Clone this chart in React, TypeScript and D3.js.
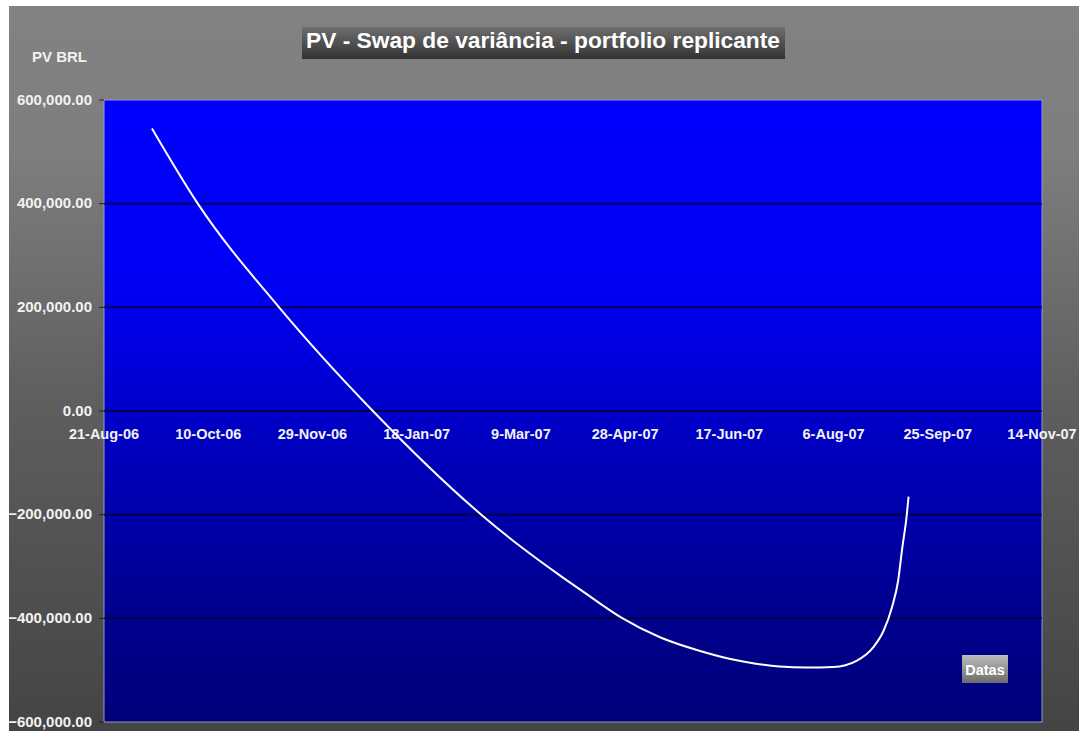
import React from "react";
import * as d3 from "d3";

const pvDates = [
  "2006-09-13", "2006-10-05", "2006-11-13", "2006-12-28", "2007-02-18",
  "2007-03-09", "2007-03-28", "2007-04-07", "2007-04-26", "2007-05-15",
  "2007-06-03", "2007-06-17", "2007-06-29", "2007-07-11", "2007-07-24",
  "2007-08-06", "2007-08-17", "2007-08-25", "2007-08-30", "2007-09-03",
  "2007-09-06", "2007-09-08", "2007-09-10", "2007-09-11",
];
const pvValues = [
  545000, 400000, 200000, 0, -200000,
  -262000, -318000, -346000, -398000, -437000,
  -463000, -478000, -487000, -493000, -495000,
  -494000, -482000, -456000, -424000, -379000,
  -327000, -263000, -205000, -165000,
];
const xTickDates = [
  "2006-08-21", "2006-10-10", "2006-11-29", "2007-01-18", "2007-03-09",
  "2007-04-28", "2007-06-17", "2007-08-06", "2007-09-25", "2007-11-14",
];
const yTicks = [600000, 400000, 200000, 0, -200000, -400000, -600000];
const titleText = "PV - Swap de variância - portfolio replicante";
const yAxisTitle = "PV BRL";
const xAxisTitle = "Datas";

const W = 1079;
const H = 731;
const plot = { left: 104, right: 1042, top: 100, bottom: 722 };

export default function App() {
  const parse = d3.timeParse("%Y-%m-%d");
  const fmt = d3.timeFormat("%-d-%b-%y");
  const data = pvDates.map((d, i) => ({ date: parse(d) as Date, value: pvValues[i] }));
  const ticks = xTickDates.map((d) => parse(d) as Date);

  const x = d3.scaleTime().domain([ticks[0], ticks[ticks.length - 1]]).range([plot.left, plot.right]);
  const y = d3.scaleLinear().domain([-600000, 600000]).range([plot.bottom, plot.top]);
  const line = d3
    .line<{ date: Date; value: number }>()
    .x((d) => x(d.date))
    .y((d) => y(d.value))
    .curve(d3.curveMonotoneX);
  const yFmt = d3.format(",.2f");
  const font = "'Liberation Sans', Arial, sans-serif";

  return (
    <svg width={W} height={H} style={{ position: "absolute", left: 0, top: 0, background: "#fff" }}>
      <defs>
        <linearGradient id="bg" x1="0" y1="0" x2="0" y2="1">
          <stop offset="0" stopColor="#828282" />
          <stop offset="0.2" stopColor="#7e7e7e" />
          <stop offset="0.55" stopColor="#5e5e5e" />
          <stop offset="1" stopColor="#444444" />
        </linearGradient>
        <linearGradient id="pa" x1="0" y1="0" x2="0" y2="1">
          <stop offset="0" stopColor="#0000ff" />
          <stop offset="0.3" stopColor="#0000f4" />
          <stop offset="0.55" stopColor="#0000c0" />
          <stop offset="0.8" stopColor="#000092" />
          <stop offset="1" stopColor="#00007a" />
        </linearGradient>
        <linearGradient id="tb" x1="0" y1="0" x2="0" y2="1">
          <stop offset="0" stopColor="#6e6e6e" />
          <stop offset="1" stopColor="#323232" />
        </linearGradient>
        <linearGradient id="db" x1="0" y1="0" x2="0" y2="1">
          <stop offset="0" stopColor="#bdbdbd" />
          <stop offset="1" stopColor="#6c6c6c" />
        </linearGradient>
      </defs>
      <rect x={9} y={6} width={W - 9} height={H - 6} fill="url(#bg)" />
      <rect
        x={plot.left}
        y={plot.top}
        width={plot.right - plot.left}
        height={plot.bottom - plot.top}
        fill="url(#pa)"
        stroke="#9a9ac4"
        strokeWidth={1}
      />
      {yTicks.map((t) => (
        <g key={t}>
          {t !== 600000 && t !== -600000 && (
            <line x1={plot.left} x2={plot.right} y1={y(t)} y2={y(t)} stroke="#00002a" strokeOpacity={0.75} strokeWidth={2} />
          )}
          <line x1={plot.left - 5} x2={plot.left} y1={y(t)} y2={y(t)} stroke="#222" strokeWidth={1} />
          <text
            x={plot.left - 12}
            y={y(t)}
            dy="0.3em"
            textAnchor="end"
            fontFamily={font}
            fontWeight="bold"
            fontSize={15}
            fill="#f2f2f2"
          >
            {yFmt(t)}
          </text>
        </g>
      ))}
      {ticks.map((t, i) => (
        <text
          key={i}
          x={x(t)}
          y={y(0) + 28}
          textAnchor="middle"
          fontFamily={font}
          fontWeight="bold"
          fontSize={14.5}
          fill="#f2f2f2"
        >
          {fmt(t)}
        </text>
      ))}
      <path d={line(data) || ""} fill="none" stroke="#ffffff" strokeWidth={2} />
      <rect x={302} y={27} width={483} height={32} fill="url(#tb)" />
      <text
        x={306}
        y={48}
        fontFamily={font}
        fontWeight="bold"
        fontSize={22}
        fill="#ffffff"
        textLength={474}
        lengthAdjust="spacingAndGlyphs"
      >
        {titleText}
      </text>
      <text x={59.5} y={62} textAnchor="middle" fontFamily={font} fontWeight="bold" fontSize={15} fill="#f2f2f2">
        {yAxisTitle}
      </text>
      <rect x={962} y={655} width={46} height={28} fill="url(#db)" />
      <text x={985} y={675} textAnchor="middle" fontFamily={font} fontWeight="bold" fontSize={14.5} fill="#ffffff">
        {xAxisTitle}
      </text>
    </svg>
  );
}
